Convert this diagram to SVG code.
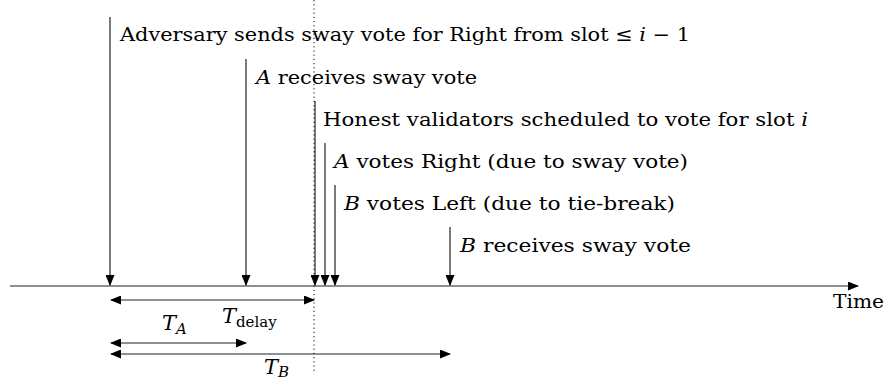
<svg xmlns="http://www.w3.org/2000/svg" width="888" height="383" viewBox="0 0 888 383">
<style>
.t{font-family:"DejaVu Serif","Liberation Serif",serif;font-size:19px;fill:#000}
.i{font-style:italic}
.T{font-size:21px}
.s{font-size:15px}
.ln{stroke:#222;stroke-width:1.2;fill:none}
.dot{stroke:#000;stroke-width:1;stroke-dasharray:1.2 3;fill:none}
</style>
<defs>
<marker id="ah" markerUnits="userSpaceOnUse" markerWidth="11" markerHeight="9" refX="10" refY="4.5" orient="auto-start-reverse"><path d="M0,0 L11,4.5 L0,9 z" fill="#000"/></marker>
</defs>
<g id="connectors">
<line class="dot" x1="314" y1="0" x2="314" y2="372"/>
<line id="axis" class="ln" x1="10" y1="286" x2="858" y2="286" marker-end="url(#ah)"/>
<line class="ln" x1="110" y1="17" x2="110" y2="285" marker-end="url(#ah)"/>
<line class="ln" x1="246" y1="59" x2="246" y2="285" marker-end="url(#ah)"/>
<line class="ln" x1="315" y1="101" x2="315" y2="285" marker-end="url(#ah)"/>
<line class="ln" x1="325" y1="143" x2="325" y2="285" marker-end="url(#ah)"/>
<line class="ln" x1="335" y1="185" x2="335" y2="285" marker-end="url(#ah)"/>
<line class="ln" x1="450" y1="227" x2="450" y2="285" marker-end="url(#ah)"/>
<line class="ln" x1="111" y1="300" x2="314" y2="300" marker-start="url(#ah)" marker-end="url(#ah)"/>
<line class="ln" x1="111" y1="343" x2="246" y2="343" marker-start="url(#ah)" marker-end="url(#ah)"/>
<line class="ln" x1="111" y1="354" x2="450" y2="354" marker-start="url(#ah)" marker-end="url(#ah)"/>
</g>
<g id="n1"><text class="t" x="120" y="41" textLength="570" lengthAdjust="spacingAndGlyphs">Adversary sends sway vote for Right from slot ≤ <tspan class="i">i</tspan> − 1</text></g>
<g id="n2"><text class="t" x="256" y="84" textLength="221" lengthAdjust="spacingAndGlyphs"><tspan class="i">A</tspan> receives sway vote</text></g>
<g id="n3"><text class="t" x="323" y="126" textLength="485" lengthAdjust="spacingAndGlyphs">Honest validators scheduled to vote for slot <tspan class="i">i</tspan></text></g>
<g id="n4"><text class="t" x="334" y="168" textLength="354" lengthAdjust="spacingAndGlyphs"><tspan class="i">A</tspan> votes Right (due to sway vote)</text></g>
<g id="n5"><text class="t" x="344" y="210" textLength="331" lengthAdjust="spacingAndGlyphs"><tspan class="i">B</tspan> votes Left (due to tie-break)</text></g>
<g id="n6"><text class="t" x="460" y="252" textLength="231" lengthAdjust="spacingAndGlyphs"><tspan class="i">B</tspan> receives sway vote</text></g>
<g id="time"><text class="t" x="833" y="308" textLength="51" lengthAdjust="spacingAndGlyphs">Time</text></g>
<g id="tdelay"><text class="t" x="222" y="323"><tspan class="i T">T</tspan><tspan class="s" dy="4">delay</tspan></text></g>
<g id="ta"><text class="t" x="162" y="330"><tspan class="i T">T</tspan><tspan class="i s" dy="4">A</tspan></text></g>
<g id="tb"><text class="t" x="264" y="374"><tspan class="i T">T</tspan><tspan class="i s" dy="3">B</tspan></text></g>
</svg>
